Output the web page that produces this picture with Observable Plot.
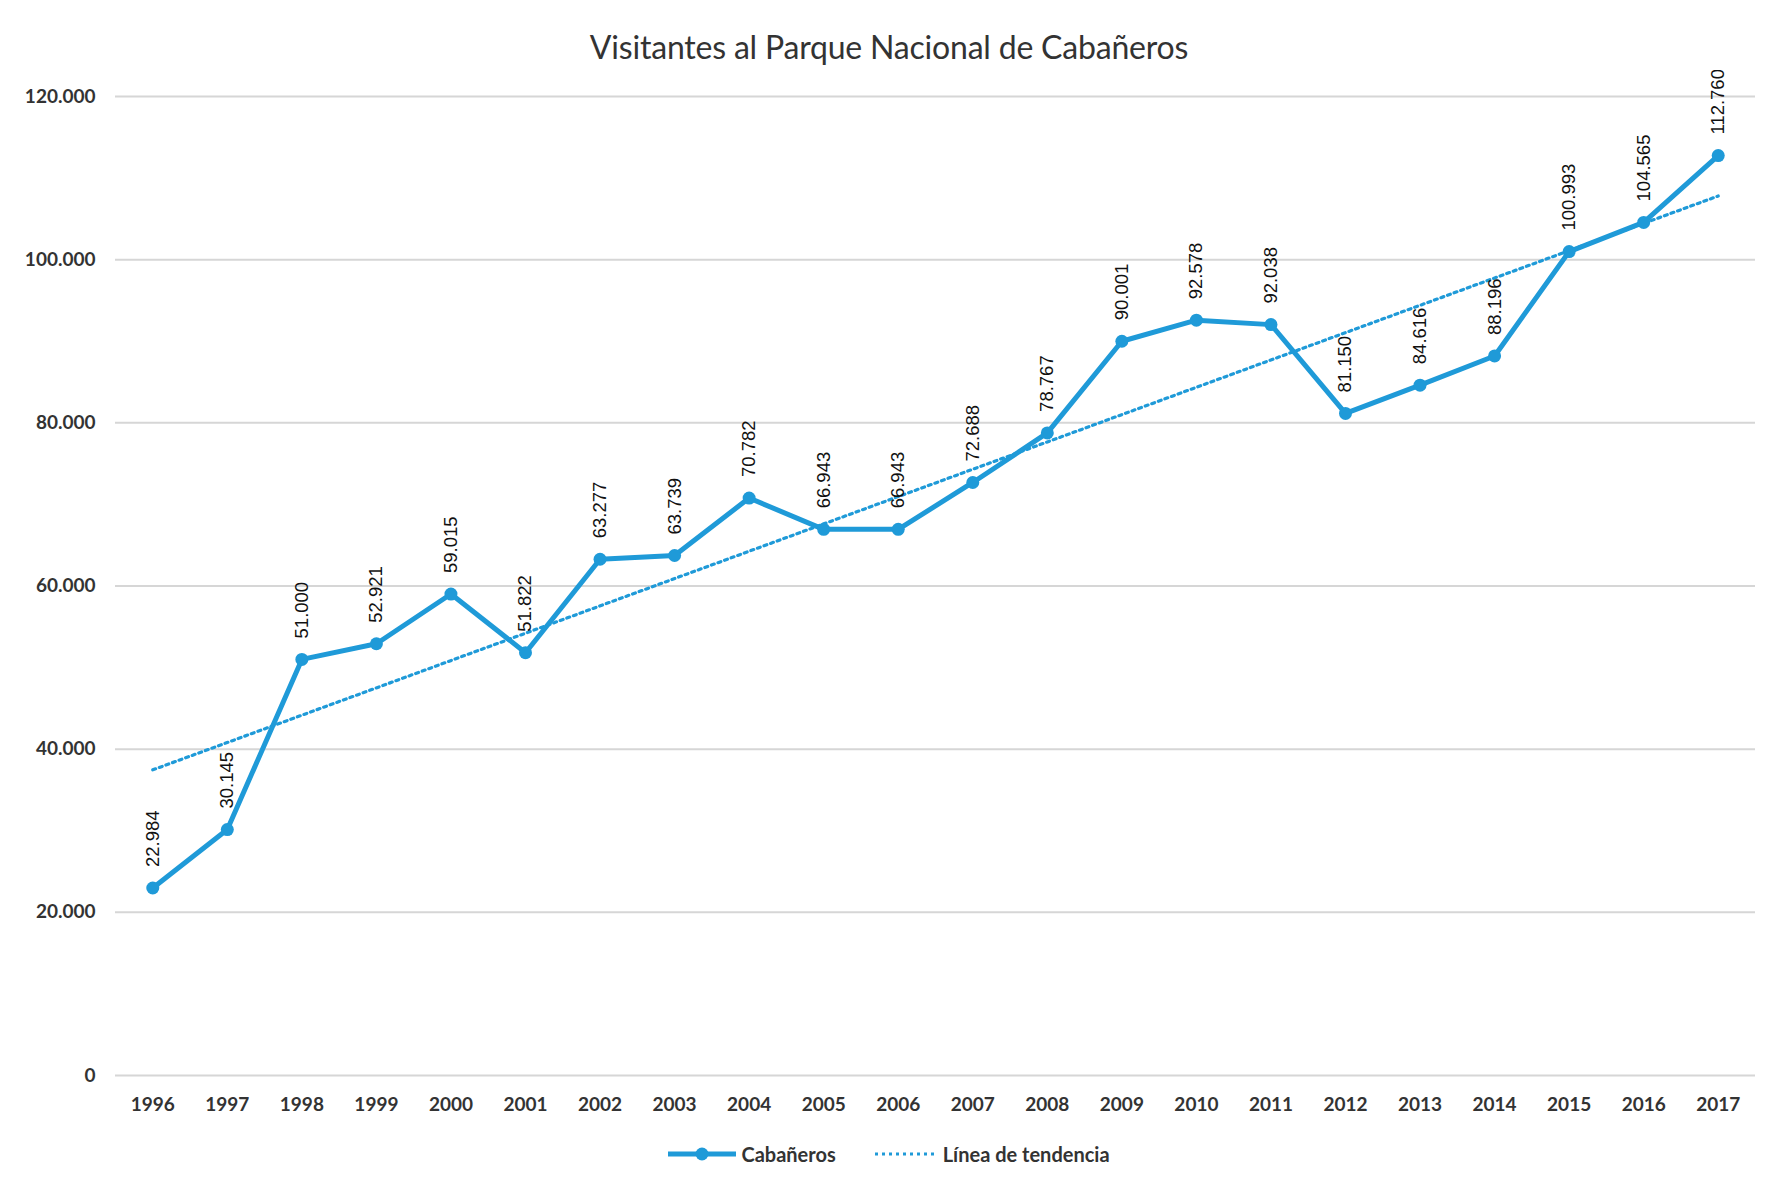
<!DOCTYPE html>
<html>
<head>
<meta charset="utf-8">
<script src="https://cdn.jsdelivr.net/npm/d3@7"></script>
<script src="https://cdn.jsdelivr.net/npm/@observablehq/plot@0.6"></script>
<style>
  html, body { margin: 0; padding: 0; background: #fff; }
  #wrap { width: 1778px; height: 1184px; position: relative; font-family: Lato, "Open Sans", sans-serif; }
  #title { height: 70px; line-height: 94px; text-align: center; font-size: 32px; color: #333; letter-spacing: -0.2px; }
  #legend { position: absolute; top: 1142px; left: 0; width: 1778px; display: flex; justify-content: center; align-items: center; font-size: 20px; font-weight: 700; color: #333; }
  .item { display: flex; align-items: center; margin: 0 14px; }
  .item svg { margin-right: 5px; }
</style>
</head>
<body>
<div id="wrap">
  <div id="title">Visitantes al Parque Nacional de Cabañeros</div>
  <div id="chart"></div>
  <div id="legend">
    <div class="item"><svg width="68" height="14"><line x1="0" y1="7" x2="68" y2="7" stroke="#1f9ad8" stroke-width="5"/><circle cx="34" cy="7" r="6.5" fill="#1f9ad8"/></svg>Cabañeros</div>
    <div class="item" style="margin-left:24px"><svg width="64" height="14"><line x1="1" y1="7" x2="63" y2="7" stroke="#1f9ad8" stroke-width="3.2" stroke-dasharray="3,4"/></svg>Línea de tendencia</div>
  </div>
</div>
<script>
const years = [1996,1997,1998,1999,2000,2001,2002,2003,2004,2005,2006,2007,2008,2009,2010,2011,2012,2013,2014,2015,2016,2017];
const visitors = [22984,30145,51000,52921,59015,51822,63277,63739,70782,66943,66943,72688,78767,90001,92578,92038,81150,84616,88196,100993,104565,112760];
const yTicks = [0,20000,40000,60000,80000,100000,120000];

const data = years.map((y, i) => ({year: y, value: visitors[i]}));
const fmt = v => d3.format(",")(v).replace(/,/g, ".");
const color = "#1f9ad8";

const chart = Plot.plot({
  width: 1778,
  height: 1072,
  marginLeft: 115,
  marginRight: 23,
  marginTop: 26,
  marginBottom: 67,
  style: {fontFamily: "Lato, 'Open Sans', sans-serif", fontSize: "19px", background: "transparent"},
  x: {domain: [1995.5, 2017.5], ticks: years, tickFormat: d => String(d), tickSize: 0, tickPadding: 22, label: null},
  y: {domain: [0, 120000], ticks: yTicks, tickFormat: fmt, tickSize: 0, tickPadding: 20, label: null},
  marks: [
    Plot.ruleY(yTicks, {stroke: "#d6d6d6", strokeWidth: 2}),
    Plot.axisX({ticks: years, tickFormat: d => String(d), tickSize: 0, tickPadding: 22, fontWeight: 700, fill: "#333", label: null}),
    Plot.axisY({ticks: yTicks, tickFormat: fmt, tickSize: 0, tickPadding: 20, fontWeight: 700, fill: "#333", label: null}),
    Plot.linearRegressionY(data, {x: "year", y: "value", stroke: color, strokeWidth: 3.2, strokeDasharray: "3,4", ci: 0}),
    Plot.line(data, {x: "year", y: "value", stroke: color, strokeWidth: 5, strokeLinejoin: "round"}),
    Plot.dot(data, {x: "year", y: "value", r: 6.5, fill: color}),
    Plot.text(data, {x: "year", y: "value", text: d => fmt(d.value), rotate: -90, textAnchor: "start", lineAnchor: "middle", dy: -21, fontSize: 18.5, fill: "#111", fontFamily: "'Liberation Sans', Arial, sans-serif"})
  ]
});
document.getElementById("chart").appendChild(chart);
</script>
</body>
</html>
